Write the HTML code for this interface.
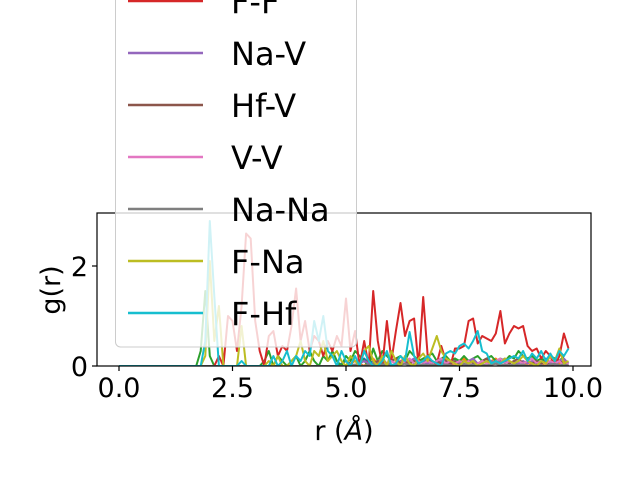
<!DOCTYPE html>
<html><head><meta charset="utf-8"><style>
body{margin:0;background:#fff}
svg text{font-family:"DejaVu Sans","Liberation Sans",sans-serif;fill:#000}
</style></head><body>
<svg id="chart" width="640" height="480" xmlns="http://www.w3.org/2000/svg">
<rect width="640" height="480" fill="#fff"/>
<g id="plot"></g>
<g id="axes"></g>
<g id="legend"></g>
</svg>
<script>
const xTicks=[0,2.5,5,7.5,10];
const xTickLabels=["0.0","2.5","5.0","7.5","10.0"];
const yTicks=[0,2];
const yTickLabels=["0","2"];
const seriesNames=["F-V","Hf-Hf","Na-Hf","F-F","Na-V","Hf-V","V-V","Na-Na","F-Na","F-Hf"];
const seriesColors=["#1f77b4","#ff7f0e","#2ca02c","#d62728","#9467bd","#8c564b","#e377c2","#7f7f7f","#bcbd22","#17becf"];
const z=n=>Array(n).fill(0);
const ffTail=[0.2,0,1.0,0.9,0.3,1.2,2.65,2.55,0.9,0.3,0,0.6,0.7,0.2,0.4,0.3,0.8,1.55,0.5,0.9,0.3,0.6,0.5,0.2,0.5,0.3,0.6,0.4,1.35,0.3,0.7,0,0.5,0,1.5,0.5,0,0.9,0.1,0.7,1.26,0.6,0.9,0.95,0,1.38,0.2,0,0.05,0.4,0.1,0,0.35,0.35,0.4,0.9,0.95,0.45,0.6,0.55,0.5,0.65,1.1,0.45,0.65,0.8,0.75,0.8,0.4,0.3,0.35,0.15,0.3,0.2,0,0.2,0.65,0.35];
const valsFF=z(22).concat(ffTail);
const fhTail=[0.5,2.9,1.4,0,0,0,0,0,0.1,0,0,0,0,0,0,0.2,0,0.1,0.3,0,0.2,0.1,0.3,0.2,0.9,0.5,1.0,0.3,0.2,0,0.3,0.1,0,0.2,0,0.3,0.1,0,0,0.1,0.3,0,0.05,0.2,0.1,0.68,0.2,0.05,0.1,0.2,0.1,0.05,0,0.25,0.3,0.25,0.4,0.45,0.35,0.5,0.7,0.3,0.25,0.05,0.1,0.05,0.1,0.15,0.2,0.15,0.3,0.1,0.25,0.15,0.3,0.1,0.25,0.1,0.3,0.2,0.35,0.25,0.4,0.3,0.3,0.2,0.15,0.1,0.05,0.4,0.35];
const valsFHf=z(19).concat(fhTail).slice(0,100);
const fnTail=[0.2,2.1,0.5,1.2,0,0,0,0,0.8,0,0,0,0,0,0.1,0,0.2,0,0,0.1,0.2,0.5,0.1,0,0.3,0.2,0.5,0.1,0.2,0.3,0.1,0,0.2,0.1,0,0.3,0.4,0.1,0,0.2,0,0.3,0.1,0,0.2,0.05,0,0.15,0.25,0.1,0.35,0.6,0.3,0.15,0.1,0.05,0,0.1,0.05,0.1,0,0.05,0.1,0.05,0.1,0.05,0.15,0.1,0.05,0.1,0.2,0.1,0.05,0,0.1,0.05,0.2,0.1,0.35,0.05,0.1,0.4];
const valsFNa=z(19).concat(fnTail).slice(0,100);
const grTail=[0.3,1.5,0.2,0,0,0,0,0,0,0,0,0,0,0,0.1,0.3,0,0.2,0.1,0,0.1,0.2,0,0.1,0.3,0.1,0,0.2,0.1,0.3,0.1,0,0.2,0.1,0.3,0.2,0.1,0,0.35,0.1,0.3,0.2,0.1,0.15,0.2,0.1,0.3,0.2,0.1,0.15,0.2,0.25,0.1,0.15,0.2,0.1,0.15,0.1,0.2,0.1,0.15,0.2,0.1,0.15,0.2,0.1,0.15,0.1,0.2,0.15,0.3,0.2,0.15,0.2,0.1,0.15,0.1,0.2,0.15,0.1,0.2];
const valsGreen=z(18).concat(grTail).slice(0,100);
const smallTail=[0,0.05,0.1,0.05,0,0.1,0.15,0.05,0.1,0.05,0.1,0.05,0.1,0.15,0.05,0.1,0.05,0.1,0.05,0.1];
function small(start){let a=z(start);while(a.length<100)a=a.concat(smallTail);return a.slice(0,100);}
const valsBlue=small(48),valsOrange=small(50),valsPurple=small(52),valsBrown=small(55),valsPink=small(58),valsGray=small(50).map(v=>v*0.3);
const seriesValues=[valsBlue,valsOrange,valsGreen,valsFF,valsPurple,valsBrown,valsPink,valsGray,valsFNa,valsFHf];
const rStep=0.1;

const NS="http://www.w3.org/2000/svg";
const L=97,R=591,T=213,B=366;
const sx=v=>119+v*45.4, sy=v=>366-v*50;
function mk(tag,attrs,parent){const e=document.createElementNS(NS,tag);for(const k in attrs)e.setAttribute(k,attrs[k]);parent.appendChild(e);return e;}
const plot=document.getElementById('plot');
mk('clipPath',{id:'cp'},plot).appendChild(Object.assign(document.createElementNS(NS,'rect'),{}));
document.querySelector('#cp rect').setAttribute('x',L);document.querySelector('#cp rect').setAttribute('y',T);
document.querySelector('#cp rect').setAttribute('width',R-L);document.querySelector('#cp rect').setAttribute('height',B-T);
seriesValues.forEach((vals,i)=>{
  const d=vals.map((v,j)=>(j?'L':'M')+sx(j*rStep).toFixed(1)+','+sy(v).toFixed(1)).join('');
  const p=mk('path',{d:d,fill:'none',stroke:seriesColors[i],'stroke-width':2,'stroke-linejoin':'round','clip-path':'url(#cp)'},plot);
  
  
});
const ax=document.getElementById('axes');
const fr=mk('rect',{x:L,y:T,width:R-L,height:B-T,fill:'none',stroke:'#000','stroke-width':1.2},ax);

xTicks.forEach((t,i)=>{
  mk('line',{x1:sx(t),x2:sx(t),y1:B,y2:B+5,stroke:'#000','stroke-width':1.2},ax);
  const tx=mk('text',{x:sx(t),y:B+31,'font-size':27,'text-anchor':'middle'},ax);tx.textContent=xTickLabels[i];
  
});
yTicks.forEach((t,i)=>{
  mk('line',{x1:L-5,x2:L,y1:sy(t),y2:sy(t),stroke:'#000','stroke-width':1.2},ax);
  const tx=mk('text',{x:L-9,y:sy(t)+10,'font-size':27,'text-anchor':'end'},ax);tx.textContent=yTickLabels[i];
  
});
const xl=mk('text',{x:344,y:440,'font-size':27,'text-anchor':'middle'},ax);
xl.innerHTML='r (<tspan font-style="italic">Å</tspan>)';

const yl=mk('text',{x:0,y:0,'font-size':27,'text-anchor':'middle',transform:'translate(60,290) rotate(-90)'},ax);
yl.textContent='g(r)';

const lg=document.getElementById('legend');
const box=mk('rect',{x:115.5,y:-180,width:241,height:527,rx:5,fill:'#fff','fill-opacity':0.8,stroke:'#ccc','stroke-width':1},lg);

seriesNames.forEach((n,i)=>{
  const y=1+(i-3)*52;
  const g=mk('g',{},lg);
  
  mk('line',{x1:128,x2:203,y1:y,y2:y,stroke:seriesColors[i],'stroke-width':2.5},g);
  const t=mk('text',{x:231,y:y+12,'font-size':32},g);t.textContent=n;
});
</script>
</body></html>
